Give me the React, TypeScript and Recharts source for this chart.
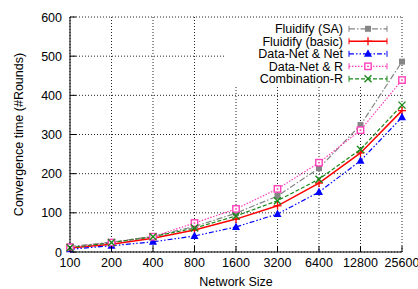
import React from 'react';
import { LineChart, Line, XAxis, YAxis, CartesianGrid, Label } from 'recharts';

const sizes = ['100', '200', '400', '800', '1600', '3200', '6400', '12800', '25600'];
const fluidifySA = [14, 25, 40, 65, 99, 143, 214, 324, 486];
const fluidifyBasic = [10, 20, 35, 56, 84, 118, 176, 253, 361];
const dataNetNet = [7, 16, 26, 41, 64, 97, 153, 233, 344];
const dataNetR = [12, 24, 39, 74, 110, 161, 228, 311, 439];
const combinationR = [11, 24, 39, 61, 92, 131, 186, 262, 375];
const seriesNames = ['Fluidify (SA)', 'Fluidify (basic)', 'Data-Net & Net', 'Data-Net & R', 'Combination-R'];
const yTicks = [0, 100, 200, 300, 400, 500, 600];

const seriesValues = [fluidifySA, fluidifyBasic, dataNetNet, dataNetR, combinationR];
const keys = ['sa', 'basic', 'dnn', 'dnr', 'comb'];

const data = sizes.map((s, i) => {
  const row: any = { size: s };
  keys.forEach((k, j) => (row[k] = seriesValues[j][i]));
  return row;
});

const FONT = '"Liberation Sans", Arial, Helvetica, sans-serif';
const FS = 12.5;

const styles = [
  { color: '#858585', dash: '6 2 1.5 2', width: 1.2, marker: 'filledSquare' },
  { color: '#ff0000', dash: undefined, width: 1.5, marker: 'plus' },
  { color: '#0000ff', dash: '5 2 1.5 2 1.5 2', width: 1.2, marker: 'triangle' },
  { color: '#ff40b8', dash: '1.5 1.5', width: 1.2, marker: 'openSquare' },
  { color: '#1a8a1a', dash: '4 2', width: 1.2, marker: 'cross' },
];

// legend box (area where grid is hidden)
const LEG = { left: 225, right: 390, bottom: 87 };

function Marker({ type, cx, cy, color }: { type: string; cx: number; cy: number; color: string }) {
  if (cx == null || cy == null) return null;
  switch (type) {
    case 'filledSquare':
      return <rect x={cx - 3} y={cy - 3} width={6} height={6} fill={color} />;
    case 'plus':
      return (
        <g stroke={color} strokeWidth={1.3}>
          <line x1={cx - 4} y1={cy} x2={cx + 4} y2={cy} />
          <line x1={cx} y1={cy - 4} x2={cx} y2={cy + 4} />
        </g>
      );
    case 'triangle':
      return <polygon points={`${cx},${cy - 4.5} ${cx - 4},${cy + 3} ${cx + 4},${cy + 3}`} fill={color} />;
    case 'openSquare':
      return (
        <g>
          <rect x={cx - 3.2} y={cy - 3.2} width={6.4} height={6.4} fill="#fff" stroke={color} strokeWidth={1.4} />
          <rect x={cx - 0.8} y={cy - 0.8} width={1.6} height={1.6} fill={color} />
        </g>
      );
    case 'cross':
      return (
        <g stroke={color} strokeWidth={1.4}>
          <line x1={cx - 3.5} y1={cy - 3.5} x2={cx + 3.5} y2={cy + 3.5} />
          <line x1={cx - 3.5} y1={cy + 3.5} x2={cx + 3.5} y2={cy - 3.5} />
        </g>
      );
  }
  return null;
}

const BottomTick = (p: any) => (
  <g>
    <line x1={p.x} y1={p.y} x2={p.x} y2={p.y - 6} stroke="#000" />
    <text x={p.x} y={p.y + 15} textAnchor="middle" fontFamily={FONT} fontSize={FS} fill="#000">
      {p.payload.value}
    </text>
  </g>
);
const TopTick = (p: any) => <line x1={p.x} y1={p.y} x2={p.x} y2={p.y + 6} stroke="#000" />;
const LeftTick = (p: any) => (
  <g>
    <line x1={p.x} y1={p.y} x2={p.x + 6} y2={p.y} stroke="#000" />
    <text x={p.x - 8} y={p.y + 4.5} textAnchor="end" fontFamily={FONT} fontSize={FS} fill="#000">
      {p.payload.value}
    </text>
  </g>
);
const RightTick = (p: any) => <line x1={p.x} y1={p.y} x2={p.x - 6} y2={p.y} stroke="#000" />;

const gridStyle = { stroke: '#000', strokeWidth: 1, strokeDasharray: '1 2', strokeOpacity: 0.85 };

const hLine = (p: any) => {
  let x2 = p.x2;
  if (p.y1 < LEG.bottom && p.y1 > p.y + 1) x2 = Math.min(x2, LEG.left);
  return <line key={p.key ?? `h${p.index}`} x1={p.x1} y1={p.y1} x2={x2} y2={p.y2} {...gridStyle} />;
};
const vLine = (p: any) => {
  let y1 = p.y1;
  if (p.x1 > LEG.left && p.x1 < LEG.right) y1 = Math.max(y1, LEG.bottom);
  return <line key={p.key ?? `v${p.index}`} x1={p.x1} y1={y1} x2={p.x2} y2={p.y2} {...gridStyle} />;
};

function LegendOverlay() {
  return (
    <svg width={418} height={289} style={{ position: 'absolute', left: 0, top: 0, pointerEvents: 'none' }}>
      {seriesNames.map((name, i) => {
        const y = 28.8 + i * 12.5;
        const s = styles[i];
        return (
          <g key={name}>
            <text x={343} y={y + 4.5} textAnchor="end" fontFamily={FONT} fontSize={FS} fill="#000">
              {name}
            </text>
            <line x1={349} y1={y} x2={387} y2={y} stroke={s.color} strokeWidth={s.width} strokeDasharray={s.dash} />
            <line x1={349} y1={y - 3} x2={349} y2={y + 3} stroke={s.color} strokeWidth={1} />
            <line x1={387} y1={y - 3} x2={387} y2={y + 3} stroke={s.color} strokeWidth={1} />
            <Marker type={s.marker} cx={368} cy={y} color={s.color} />
          </g>
        );
      })}
    </svg>
  );
}

export default function App() {
  return (
    <div style={{ position: 'absolute', left: 0, top: 0, width: 418, height: 289, background: '#fff' }}>
      <LineChart width={418} height={289} data={data} margin={{ top: 17, right: 16, bottom: 0, left: 10 }}>
        <CartesianGrid horizontal={hLine} vertical={vLine} />
        <XAxis
          dataKey="size"
          height={37}
          interval={0}
          tickSize={0}
          tickMargin={0}
          tickLine={false}
          tick={BottomTick}
          axisLine={{ stroke: '#000' }}
        >
          <Label
            content={() => (
              <text x={236} y={286} textAnchor="middle" fontFamily={FONT} fontSize={FS} fill="#000">
                Network Size
              </text>
            )}
          />
        </XAxis>
        <XAxis
          xAxisId="top"
          dataKey="size"
          orientation="top"
          height={0}
          interval={0}
          tickSize={0}
          tickMargin={0}
          tickLine={false}
          tick={TopTick}
          axisLine={{ stroke: '#000' }}
        />
        <YAxis
          width={60}
          domain={[0, 600]}
          ticks={yTicks}
          interval={0}
          tickSize={0}
          tickMargin={0}
          tickLine={false}
          tick={LeftTick}
          axisLine={{ stroke: '#000' }}
        >
          <Label
            content={() => (
              <text
                x={22.5}
                y={134.5}
                textAnchor="middle"
                transform="rotate(-90, 22.5, 134.5)"
                fontFamily={FONT}
                fontSize={FS}
                fill="#000"
              >
                Convergence time (#Rounds)
              </text>
            )}
          />
        </YAxis>
        <YAxis
          yAxisId="right"
          orientation="right"
          width={0}
          domain={[0, 600]}
          ticks={yTicks}
          interval={0}
          tickSize={0}
          tickMargin={0}
          tickLine={false}
          tick={RightTick}
          axisLine={{ stroke: '#000' }}
        />
        {keys.map((k, i) => {
          const s = styles[i];
          return (
            <Line
              key={k}
              dataKey={k}
              name={seriesNames[i]}
              type="linear"
              stroke={s.color}
              strokeWidth={s.width}
              strokeDasharray={s.dash}
              isAnimationActive={false}
              dot={(p: any) => <Marker key={`${k}-${p.index}`} type={s.marker} cx={p.cx} cy={p.cy} color={s.color} />}
              activeDot={false}
            />
          );
        })}
      </LineChart>
      <LegendOverlay />
    </div>
  );
}
